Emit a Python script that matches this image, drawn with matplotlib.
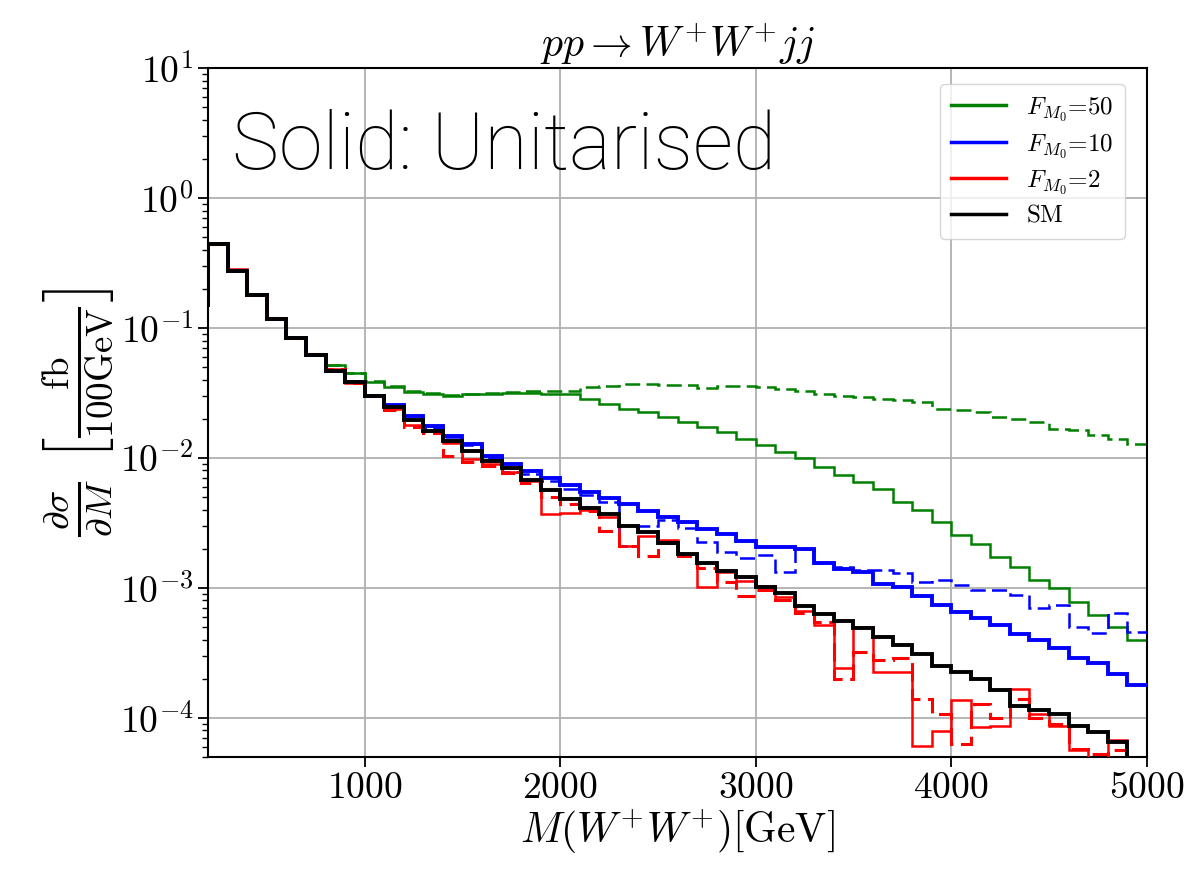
import numpy as np
import matplotlib
matplotlib.use("Agg")
import matplotlib.pyplot as plt
from matplotlib.lines import Line2D

plt.rcParams['mathtext.fontset'] = 'cm'
plt.rcParams['font.family'] = 'serif'
plt.rcParams['font.serif'] = ['cmr10', 'DejaVu Serif']
plt.rcParams['axes.formatter.use_mathtext'] = True

# bin edges: 100 GeV bins from 100 to 5000 GeV
bin_edges = np.arange(100, 5001, 100)

# SM (black)
sm = [0.15, 0.44, 0.276, 0.178, 0.118, 0.083, 0.062, 0.047, 0.0385, 0.0302,
      0.0245, 0.0196, 0.016, 0.0134, 0.0114, 0.0094, 0.0083, 0.0068, 0.0057, 0.0048,
      0.0041, 0.0037, 0.0030, 0.0027, 0.00222, 0.00182, 0.00155, 0.00134, 0.00122, 0.00102,
      0.00092, 0.00073, 0.00063, 0.00056, 0.00049, 0.00042, 0.00036, 0.00031, 0.00025, 0.000224,
      0.000199, 0.000164, 0.000124, 0.000114, 0.000106, 0.000087, 0.000078, 0.000065, 0.00004]

# F_M0 = 2 (red), solid = unitarised, dashed = not unitarised
fm2_unit = [0.15, 0.44, 0.282, 0.18, 0.12, 0.083, 0.063, 0.048, 0.038, 0.030,
            0.0240, 0.018, 0.0160, 0.0130, 0.0098, 0.0090, 0.0078, 0.0066, 0.0037, 0.0038,
            0.0040, 0.0035, 0.0021, 0.0025, 0.00235, 0.00182, 0.00102, 0.00132, 0.00113, 0.00103,
            0.00085, 0.00066, 0.00052, 0.00024, 0.0005, 0.000226, 0.000226, 0.000061, 0.000079, 0.000136,
            0.000085, 0.000086, 0.000167, 0.000107, 0.000086, 0.000056, 0.00004, 0.000067, 0.00003]
fm2_raw = [0.15, 0.44, 0.28, 0.18, 0.12, 0.083, 0.063, 0.048, 0.038, 0.030,
           0.0234, 0.0172, 0.0155, 0.0103, 0.0093, 0.0086, 0.0077, 0.0064, 0.0050, 0.0044,
           0.0039, 0.00275, 0.0021, 0.00175, 0.0022, 0.00177, 0.00142, 0.0011, 0.00086, 0.00096,
           0.00081, 0.00064, 0.00055, 0.0002, 0.00032, 0.00028, 0.00029, 0.00014, 0.000106, 0.000063,
           0.000128, 0.0001, 0.00014, 0.0001, 0.00009, 0.000058, 0.000053, 0.000056, 0.00003]

# F_M0 = 10 (blue)
fm10_unit = [0.15, 0.44, 0.276, 0.178, 0.118, 0.083, 0.062, 0.047, 0.0385, 0.0302,
             0.0256, 0.0209, 0.0175, 0.0147, 0.0127, 0.0103, 0.0089, 0.0079, 0.0070, 0.0062,
             0.0055, 0.0049, 0.0044, 0.0039, 0.0035, 0.0032, 0.00285, 0.0026, 0.0023, 0.00205,
             0.00205, 0.002, 0.00155, 0.0014, 0.00133, 0.00107, 0.00102, 0.00087, 0.00074, 0.00065,
             0.00059, 0.00052, 0.00044, 0.0004, 0.000345, 0.00029, 0.000265, 0.000216, 0.00018]
fm10_raw = [0.15, 0.44, 0.276, 0.178, 0.118, 0.083, 0.062, 0.047, 0.0385, 0.0302,
            0.025, 0.020, 0.017, 0.0145, 0.0125, 0.0100, 0.0078, 0.0075, 0.0066, 0.0058,
            0.0052, 0.0046, 0.0021, 0.0030, 0.0033, 0.0029, 0.00224, 0.00188, 0.0017, 0.0018,
            0.00132, 0.002, 0.00155, 0.00145, 0.00137, 0.00136, 0.00129, 0.00111, 0.00114, 0.00105,
            0.00096, 0.00096, 0.00088, 0.0007, 0.00074, 0.0005, 0.00045, 0.00064, 0.00046]

# F_M0 = 50 (green)
fm50_unit = [0.15, 0.44, 0.276, 0.178, 0.118, 0.083, 0.062, 0.052, 0.0447, 0.0386,
             0.0354, 0.0324, 0.031, 0.0297, 0.031, 0.0312, 0.0315, 0.0316, 0.0313, 0.031,
             0.0286, 0.0262, 0.0239, 0.0226, 0.0207, 0.0189, 0.0173, 0.0158, 0.0141, 0.0125,
             0.0111, 0.0099, 0.0085, 0.0074, 0.0065, 0.0058, 0.0046, 0.00396, 0.00322, 0.00254,
             0.00219, 0.00173, 0.00145, 0.00115, 0.00099, 0.00078, 0.00062, 0.0005, 0.0004]
fm50_raw = [0.15, 0.44, 0.276, 0.178, 0.118, 0.083, 0.062, 0.052, 0.0447, 0.039,
            0.0356, 0.033, 0.0315, 0.0305, 0.031, 0.0315, 0.0322, 0.0328, 0.0326, 0.0326,
            0.0352, 0.0358, 0.0369, 0.0373, 0.0367, 0.0362, 0.0345, 0.0358, 0.0356, 0.0352,
            0.0337, 0.033, 0.0313, 0.030, 0.0295, 0.0286, 0.0278, 0.027, 0.0239, 0.0233,
            0.0224, 0.0207, 0.0201, 0.0189, 0.0168, 0.0163, 0.0149, 0.0141, 0.0129]

legend_labels = [r'$F_{M_0}$=50', r'$F_{M_0}$=10', r'$F_{M_0}$=2', 'SM']
colors = ['green', 'blue', 'red', 'black']

fig = plt.figure(figsize=(11.97, 8.73), dpi=100)
ax = fig.add_axes([0.174, 0.133, 0.784, 0.789])

ax.grid(True, color='#b0b0b0', lw=1.3, zorder=0)

dash = (0, (6, 2.5))
ax.stairs(fm50_raw, bin_edges, color='green', lw=1.8, ls=dash, baseline=None, zorder=2)
ax.stairs(fm50_unit, bin_edges, color='green', lw=1.8, baseline=None, zorder=2)
ax.stairs(fm10_raw, bin_edges, color='blue', lw=1.8, ls=dash, baseline=None, zorder=3)
ax.stairs(fm10_unit, bin_edges, color='blue', lw=2.8, baseline=None, zorder=3)
ax.stairs(fm2_raw, bin_edges, color='red', lw=2.2, ls=dash, baseline=None, zorder=4)
ax.stairs(fm2_unit, bin_edges, color='red', lw=1.8, baseline=None, zorder=4)
ax.stairs(sm, bin_edges, color='black', lw=2.8, baseline=None, zorder=5)

ax.set_yscale('log')
ax.set_xlim(200, 5000)
ax.set_ylim(5e-5, 10)
ax.set_xticks([1000, 2000, 3000, 4000, 5000])
ax.tick_params(axis='both', which='major', labelsize=27, length=7, width=1.3)
ax.tick_params(axis='y', which='minor', length=4, width=1.0)
for sp in ax.spines.values():
    sp.set_linewidth(1.5)

ax.set_title(r'$pp \rightarrow W^{+}W^{+}jj$', fontsize=30, pad=8)
ax.set_xlabel(r'$M(W^{+}W^{+})[\mathrm{GeV}]$', fontsize=30, labelpad=2)
ax.set_ylabel(r'$\frac{\partial\sigma}{\partial M}\ \left[\frac{\mathrm{fb}}{100\mathrm{GeV}}\right]$',
              fontsize=38, labelpad=2)

handles = [Line2D([], [], color=c, lw=2.5) for c in colors]
ax.legend(handles, legend_labels, loc='upper right', fontsize=18,
          handlelength=2.2, borderpad=0.45, labelspacing=0.35, framealpha=0.8,
          bbox_to_anchor=(0.99, 0.995))

ax.text(0.025, 0.94, 'Solid: Unitarised', transform=ax.transAxes,
        fontsize=57, family=['Roboto', 'Liberation Sans', 'DejaVu Sans'], fontweight='light',
        va='top', ha='left', zorder=10)

fig.savefig('out.png', dpi=100)
